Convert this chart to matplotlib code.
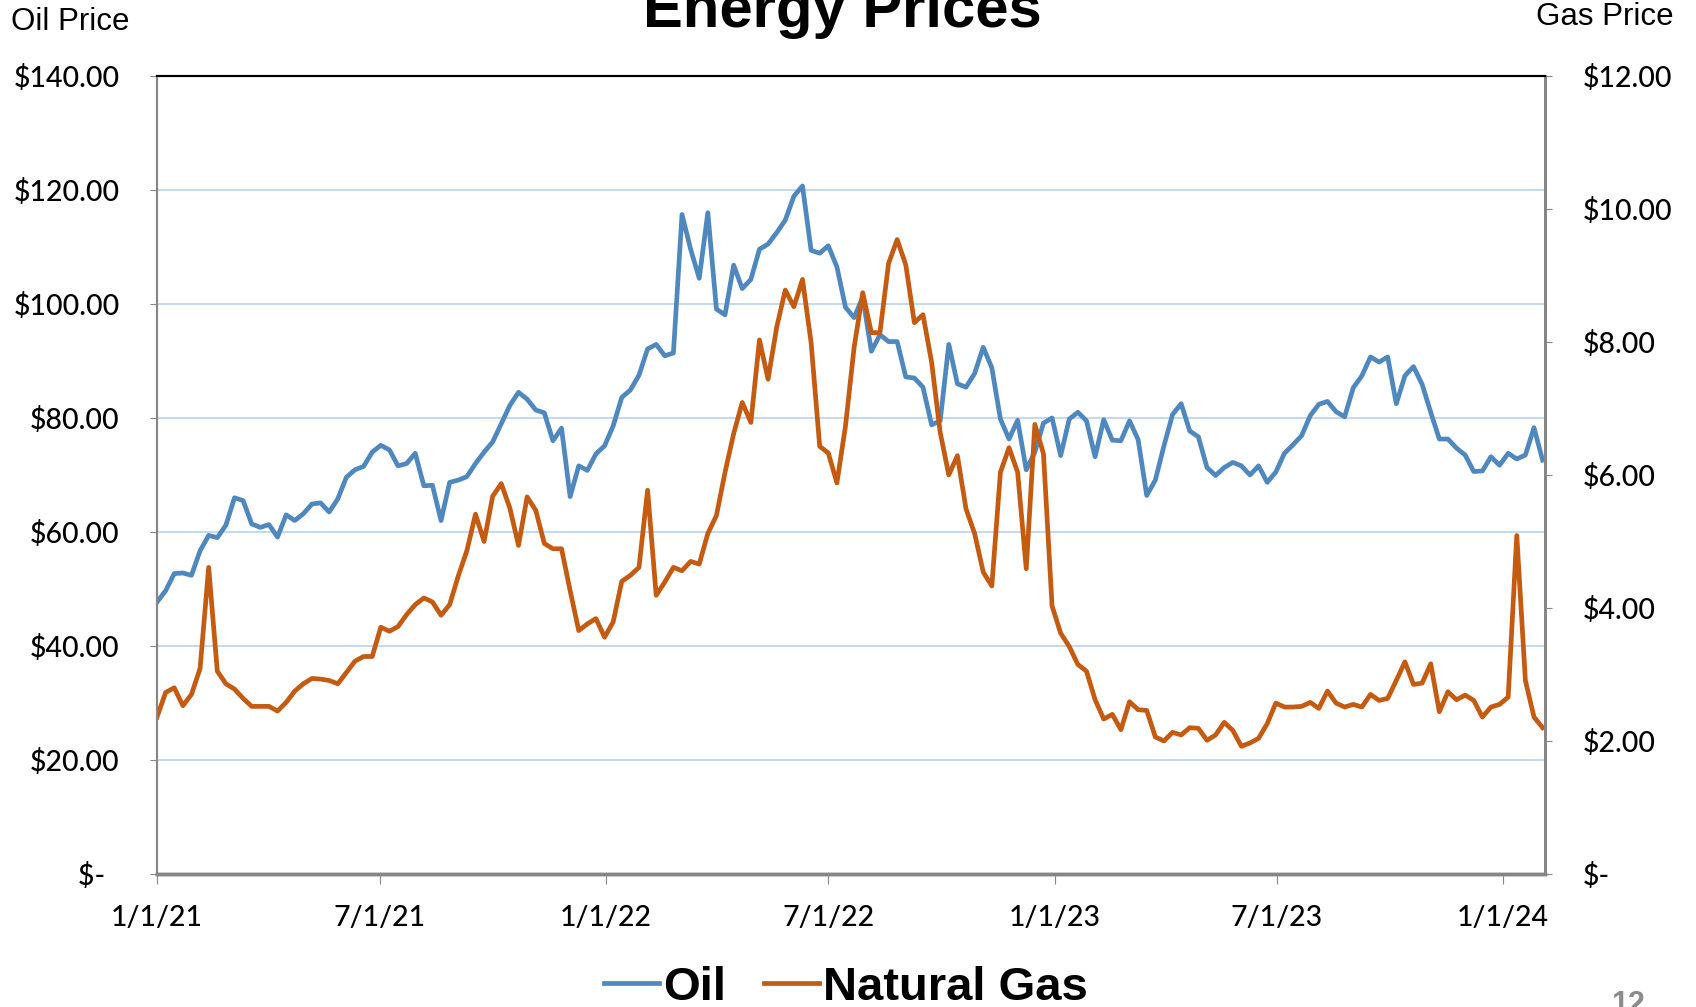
import matplotlib
matplotlib.use("Agg")
from matplotlib import pyplot as plt
import numpy as np
import pandas as pd

# weekly prices (first week = 1/1/21)
oil = [47.7, 49.7, 52.7, 52.8, 52.4, 56.7, 59.4, 59.0, 61.2, 66.0,
       65.5, 61.4, 60.8, 61.3, 59.1, 63.0, 62.0, 63.2, 64.9, 65.1,
       63.5, 65.8, 69.6, 70.9, 71.5, 74.0, 75.2, 74.4, 71.6, 72.0,
       73.8, 68.1, 68.2, 62.0, 68.7, 69.1, 69.7, 72.0, 74.0, 75.8,
       79.0, 82.2, 84.5, 83.3, 81.4, 80.9, 76.0, 78.2, 66.2, 71.6,
       70.8, 73.7, 75.1, 78.6, 83.6, 84.9, 87.5, 92.1, 92.9, 90.9,
       91.4, 115.7, 109.6, 104.5, 116.0, 99.1, 98.1, 106.8, 102.7, 104.3,
       109.6, 110.5, 112.5, 114.7, 118.9, 120.7, 109.4, 108.9, 110.2, 106.5,
       99.4, 97.6, 101.2, 91.7, 94.6, 93.4, 93.4, 87.2, 87.0, 85.4,
       78.8, 79.5, 92.9, 86.0, 85.4, 87.8, 92.4, 88.8, 79.8, 76.3,
       79.6, 70.9, 74.0, 79.1, 80.0, 73.4, 79.8, 81.0, 79.5, 73.2,
       79.7, 76.1, 76.0, 79.5, 76.2, 66.4, 69.1, 75.1, 80.6, 82.5,
       77.7, 76.7, 71.3, 69.9, 71.3, 72.2, 71.6, 70.0, 71.6, 68.7,
       70.5, 73.8, 75.3, 76.9, 80.4, 82.4, 82.9, 81.1, 80.2, 85.3,
       87.4, 90.7, 89.8, 90.7, 82.5, 87.4, 89.0, 85.9, 81.0, 76.3,
       76.3, 74.7, 73.5, 70.6, 70.7, 73.2, 71.7, 73.8, 72.8, 73.5,
       78.3, 72.6]
gas = [2.36, 2.73, 2.80, 2.53, 2.70, 3.09, 4.61, 3.05, 2.86, 2.78,
       2.64, 2.52, 2.52, 2.52, 2.45, 2.58, 2.75, 2.86, 2.94, 2.93,
       2.91, 2.86, 3.03, 3.20, 3.27, 3.27, 3.71, 3.65, 3.72, 3.90,
       4.05, 4.15, 4.09, 3.89, 4.05, 4.48, 4.86, 5.41, 5.00, 5.68,
       5.87, 5.50, 4.94, 5.67, 5.47, 4.97, 4.89, 4.89, 4.26, 3.66,
       3.76, 3.84, 3.56, 3.79, 4.40, 4.49, 4.61, 5.77, 4.19, 4.39,
       4.61, 4.56, 4.70, 4.66, 5.12, 5.39, 6.04, 6.62, 7.09, 6.79,
       8.03, 7.44, 8.22, 8.78, 8.53, 8.94, 7.99, 6.43, 6.33, 5.88,
       6.74, 7.92, 8.74, 8.14, 8.14, 9.18, 9.54, 9.16, 8.29, 8.41,
       7.70, 6.64, 6.00, 6.29, 5.49, 5.12, 4.54, 4.33, 6.04, 6.41,
       6.04, 4.59, 6.76, 6.32, 4.03, 3.62, 3.42, 3.15, 3.05, 2.62,
       2.33, 2.40, 2.17, 2.59, 2.47, 2.46, 2.06, 2.00, 2.13, 2.09,
       2.20, 2.19, 2.01, 2.09, 2.28, 2.16, 1.92, 1.97, 2.04, 2.26,
       2.57, 2.51, 2.51, 2.52, 2.58, 2.49, 2.75, 2.57, 2.51, 2.55,
       2.51, 2.70, 2.61, 2.64, 2.91, 3.19, 2.85, 2.87, 3.16, 2.44,
       2.74, 2.62, 2.69, 2.61, 2.36, 2.51, 2.55, 2.66, 5.09, 2.91,
       2.36, 2.20]
dates = pd.date_range("2021-01-01", periods=len(oil), freq="7D")

tick_dates = pd.to_datetime(["2021-01-01", "2021-07-01", "2022-01-01", "2022-07-01",
                             "2023-01-01", "2023-07-01", "2024-01-01"])
tick_labels = ["1/1/21", "7/1/21", "1/1/22", "7/1/22", "1/1/23", "7/1/23", "1/1/24"]
oil_ticks = [0, 20, 40, 60, 80, 100, 120, 140]
oil_labels = ["$-  "] + ["$%.2f" % v for v in oil_ticks[1:]]
gas_ticks = [0, 2, 4, 6, 8, 10, 12]
gas_labels = ["$-"] + ["$%.2f" % v for v in gas_ticks[1:]]

plt.rcParams['font.family'] = ['Lato', 'DejaVu Sans']
plt.rcParams['font.weight'] = 500
grey = '#868686'

fig = plt.figure(figsize=(16.96, 10.07), dpi=100)
ax = fig.add_axes([0.0926, 0.1321, 0.8184, 0.7925])
ax2 = ax.twinx()

l1, = ax.plot(dates, oil, color='#4F88BF', linewidth=3.4, solid_joinstyle='round')
l2, = ax2.plot(dates, gas, color='#C55A11', linewidth=3.4, solid_joinstyle='round')

ax.set_ylim(0, 140)
ax2.set_ylim(0, 12)
ax.set_xlim(dates[0], dates[-1] + pd.Timedelta(days=2))
ax.set_yticks(oil_ticks)
ax.set_yticklabels(oil_labels)
ax2.set_yticks(gas_ticks)
ax2.set_yticklabels(gas_labels)
ax.set_xticks(tick_dates)
ax.set_xticklabels(tick_labels)

ax.yaxis.grid(True, color='#B9D3F0', linewidth=1.2)
ax.set_axisbelow(True)

ax.tick_params(axis='y', direction='out', length=5, color=grey, pad=22, labelsize=20.5)
ax2.tick_params(axis='y', direction='out', length=5, color=grey, pad=22, labelsize=20.5)
ax.tick_params(axis='x', direction='out', length=7, color=grey, pad=15.5, labelsize=20.5)

for a in (ax, ax2):
    a.spines['top'].set_color('black')
    a.spines['top'].set_linewidth(1.5)
    a.spines['left'].set_color(grey)
    a.spines['left'].set_linewidth(1.5)
    a.spines['right'].set_color(grey)
    a.spines['right'].set_linewidth(2)
    a.spines['bottom'].set_color(grey)
    a.spines['bottom'].set_linewidth(2.5)

fig.text(0.4968, 0.973, "Energy Prices", ha='center', va='baseline', fontsize=43,
         fontweight='bold', family='Liberation Sans')
fig.text(0.0065, 0.970, "Oil Price", ha='left', va='baseline', fontsize=22.5,
         fontweight='normal', family='Liberation Sans')
fig.text(0.987, 0.975, "Gas Price", ha='right', va='baseline', fontsize=22.5,
         fontweight='normal', family='Liberation Sans')
fig.text(0.96, 0.017, "12", ha='center', va='top', fontsize=22, fontweight='bold',
         color='#8C8C8C', family='Liberation Sans')

fig.legend([l1, l2], ["Oil", "Natural Gas"], loc='center', bbox_to_anchor=(0.499, 0.019),
           ncol=2, frameon=False, handlelength=1.15, handletextpad=0.1, columnspacing=0.8,
           prop={'family': 'Liberation Sans', 'weight': 'bold', 'size': 34})

plt.savefig("out.png", dpi=100)
